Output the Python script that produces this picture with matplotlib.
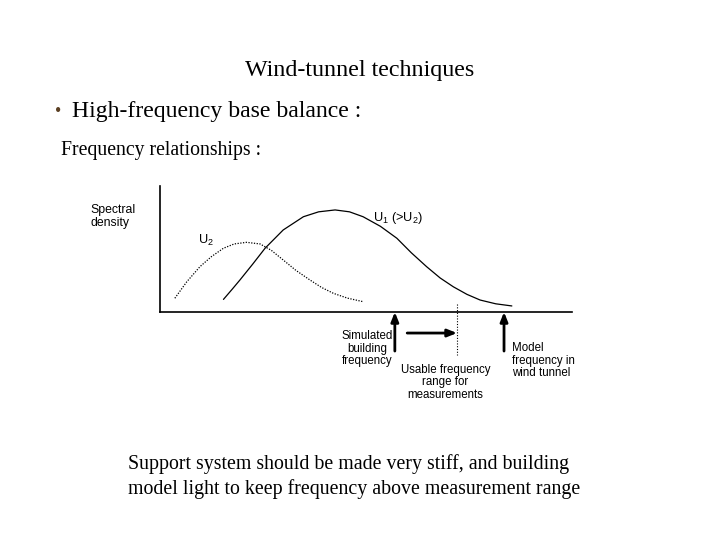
import matplotlib
matplotlib.use("Agg")
import matplotlib.pyplot as plt

plt.rcParams['mathtext.fontset'] = 'custom'
plt.rcParams['mathtext.rm'] = 'Liberation Sans'
plt.rcParams['mathtext.it'] = 'Liberation Sans'

# ---- data (frequency in arbitrary units, spectral density in arbitrary units)
u1_freq = [1.54, 1.75, 1.94, 2.25, 2.55, 2.99, 3.48, 3.85, 4.25, 4.60, 4.93, 5.35, 5.75, 6.10, 6.47, 6.80, 7.12, 7.45, 7.77, 8.15, 8.54]
u1_dens = [0.10, 0.18, 0.254, 0.38, 0.506, 0.651, 0.756, 0.795, 0.81, 0.795, 0.756, 0.68, 0.585, 0.47, 0.36, 0.27, 0.20, 0.14, 0.095, 0.065, 0.048]
u2_freq = [0.36, 0.65, 0.97, 1.25, 1.54, 1.80, 2.10, 2.43, 2.70, 2.99, 3.30, 3.64, 3.92, 4.21, 4.55, 4.93]
u2_dens = [0.109, 0.24, 0.36, 0.44, 0.506, 0.540, 0.553, 0.540, 0.49, 0.413, 0.33, 0.254, 0.195, 0.148, 0.110, 0.082]

sim_freq = 5.70      # simulated building frequency
usable_limit = 7.21  # upper limit of usable range
model_freq = 8.35    # model frequency in wind tunnel

title = "Wind-tunnel techniques"
bullet_text = "High-frequency base balance :"
sub_text = "Frequency relationships :"
footer = ["Support system should be made very stiff, and building",
          "model light to keep frequency above measurement range"]

W, H = 720, 540
fig = plt.figure(figsize=(7.2, 5.4), dpi=100)
fig.patch.set_facecolor('white')

# overlay in pixel coordinates for slide text
ov = fig.add_axes([0, 0, 1, 1])
ov.set_xlim(0, W)
ov.set_ylim(H, 0)
ov.axis('off')

serif = 'Liberation Serif'
sans = 'Liberation Sans'

ov.text(360, 76, title, ha='center', va='baseline', family=serif, fontsize=17.3)
ov.text(58, 116.5, "•", ha='center', va='baseline', family=serif, fontsize=13, color='#5a3f22')
ov.text(72, 116.5, bullet_text, ha='left', va='baseline', family=serif, fontsize=17.1)
ov.text(61, 155, sub_text, ha='left', va='baseline', family=serif, fontsize=14.2)
ov.text(128, 469, footer[0], ha='left', va='baseline', family=serif, fontsize=14.3)
ov.text(128, 494, footer[1], ha='left', va='baseline', family=serif, fontsize=14.3)

# chart axes: left=160, right=572, bottom=312, top=186 (pixels)
l, r, b, t = 160, 572, 312, 186
ax = fig.add_axes([l / W, 1 - b / H, (r - l) / W, (b - t) / H])
ax.set_xlim(0, 10)
ax.set_ylim(0, 1)
ax.spines['top'].set_visible(False)
ax.spines['right'].set_visible(False)
for s in ('left', 'bottom'):
    ax.spines[s].set_linewidth(1.2)
ax.set_xticks([])
ax.set_yticks([])
ax.patch.set_alpha(0)

ax.plot(u1_freq, u1_dens, color='black', lw=0.9, solid_capstyle='round')
ax.plot(u2_freq, u2_dens, color='black', lw=0.9, linestyle=(0, (1, 1.2)))

ax.text(5.17, 0.722, r"U$_{\mathrm{1}}$ (>U$_{\mathrm{2}}$)", family=sans, fontsize=9.2, va='baseline', ha='left')
ax.text(0.92, 0.54, r"U$_{\mathrm{2}}$", family=sans, fontsize=9.2, va='baseline', ha='left')

ax.text(-1.68, 0.857, "Spectral\ndensity", family=sans, fontsize=8.8, va='top', ha='left', linespacing=1.1)

arrow_kw = dict(arrowstyle='-|>,head_length=0.55,head_width=0.22', color='black', lw=2.0, shrinkA=0, shrinkB=0)
# vertical arrows
ax.annotate('', xy=(sim_freq, 0.0), xytext=(sim_freq, -0.31), arrowprops=arrow_kw, annotation_clip=False)
ax.annotate('', xy=(model_freq, 0.0), xytext=(model_freq, -0.31), arrowprops=arrow_kw, annotation_clip=False)
# horizontal arrow
ax.annotate('', xy=(usable_limit, -0.167), xytext=(6.0, -0.167), arrowprops=arrow_kw, annotation_clip=False)
# dotted limit
ax.plot([usable_limit, usable_limit], [0.063, -0.34], color='black', lw=0.8, linestyle=(0, (1, 1.5)), clip_on=False)

ax.text(5.66, -0.145, "Simulated\nbuilding\nfrequency", family=sans, fontsize=8.3, va='top', ha='right', linespacing=1.05, multialignment='center')
ax.text(6.925, -0.41, "Usable frequency\nrange for\nmeasurements", family=sans, fontsize=8.3, va='top', ha='center', linespacing=1.05)
ax.text(8.54, -0.24, "Model\nfrequency in\nwind tunnel", family=sans, fontsize=8.3, va='top', ha='left', linespacing=1.05)

fig.savefig('out.png', dpi=100, facecolor='white')
